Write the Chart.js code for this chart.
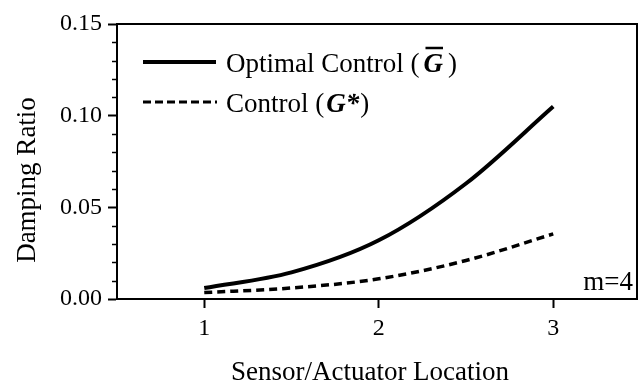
<!DOCTYPE html>
<html>
<head>
<meta charset="utf-8">
<script src="https://cdn.jsdelivr.net/npm/chart.js@4.4.1/dist/chart.umd.min.js"></script>
<style>
    html, body { margin: 0; padding: 0; background: #fff; overflow: hidden; }
    #wrap { width: 639px; height: 390px; position: relative; }
</style>
</head>
<body>
<div id="wrap"><canvas id="dampingChart"></canvas></div>
<script>
    const locations = [1, 1.5, 2, 2.5, 3];
    const optimalRatio = [0.006, 0.0145, 0.032, 0.063, 0.105];
    const controlRatio = [0.0035, 0.006, 0.011, 0.021, 0.0355];

    const xTicks = [1, 2, 3];
    const yTicks = [0, 0.05, 0.10, 0.15];
    const yMinorTicks = [0.01, 0.02, 0.03, 0.04, 0.06, 0.07, 0.08, 0.09, 0.11, 0.12, 0.13, 0.14];

    const SERIF = '"Liberation Serif", "Times New Roman", serif';

    function toPoints(values) {
        return locations.map((x, i) => ({ x, y: values[i] }));
    }

    // Frame, minor ticks, legend, axis titles and the m=4 note
    const decorations = {
        id: 'decorations',
        afterDraw(chart) {
            const ctx = chart.ctx;
            const area = chart.chartArea;
            const yScale = chart.scales.y;

            ctx.save();
            ctx.strokeStyle = '#000';
            ctx.fillStyle = '#000';

            // top and right edge of the box
            ctx.lineWidth = 2;
            ctx.beginPath();
            ctx.moveTo(area.left, area.top);
            ctx.lineTo(area.right, area.top);
            ctx.lineTo(area.right, area.bottom);
            ctx.stroke();

            // minor ticks on the left axis
            ctx.lineWidth = 1.5;
            yMinorTicks.forEach((v) => {
                const y = Math.round(yScale.getPixelForValue(v)) + 0.5;
                ctx.beginPath();
                ctx.moveTo(area.left - 5, y);
                ctx.lineTo(area.left, y);
                ctx.stroke();
            });

            // legend samples
            ctx.lineWidth = 4;
            ctx.beginPath();
            ctx.moveTo(143, 62);
            ctx.lineTo(216, 62);
            ctx.stroke();

            ctx.lineWidth = 3;
            ctx.setLineDash([8, 4]);
            ctx.beginPath();
            ctx.moveTo(143, 102);
            ctx.lineTo(217, 102);
            ctx.stroke();
            ctx.setLineDash([]);

            const regular = '27px ' + SERIF;
            const boldItalic = 'bold italic 27px ' + SERIF;
            ctx.textBaseline = 'alphabetic';
            ctx.textAlign = 'left';

            // line 1: Optimal Control (G-bar)
            let x = 226;
            ctx.font = regular;
            ctx.fillText('Optimal Control (', x, 72);
            x += ctx.measureText('Optimal Control (').width + 4;
            ctx.font = boldItalic;
            const gWidth = ctx.measureText('G').width;
            ctx.fillText('G', x, 72);
            ctx.lineWidth = 2.5;
            ctx.beginPath();
            ctx.moveTo(x + 2, 48);
            ctx.lineTo(x + gWidth, 48);
            ctx.stroke();
            x += gWidth + 5;
            ctx.font = regular;
            ctx.fillText(')', x, 72);

            // line 2: Control (G*)
            x = 226;
            ctx.fillText('Control (', x, 112);
            x += ctx.measureText('Control (').width + 2;
            ctx.font = boldItalic;
            ctx.fillText('G*', x, 112);
            x += ctx.measureText('G*').width + 1;
            ctx.font = regular;
            ctx.fillText(')', x, 112);

            // note in the lower right corner
            ctx.textAlign = 'right';
            ctx.fillText('m=4', 633, 290);

            // axis titles
            ctx.textAlign = 'center';
            ctx.fillText('Sensor/Actuator Location', 370, 380);

            ctx.translate(35, 180);
            ctx.rotate(-Math.PI / 2);
            ctx.fillText('Damping Ratio', 0, 0);

            ctx.restore();
        },
    };

    new Chart(document.getElementById('dampingChart'), {
        type: 'line',
        data: {
            datasets: [
                {
                    label: 'Optimal Control',
                    data: toPoints(optimalRatio),
                    borderColor: '#000',
                    borderWidth: 4,
                    pointRadius: 0,
                    cubicInterpolationMode: 'monotone',
                    fill: false,
                },
                {
                    label: 'Control',
                    data: toPoints(controlRatio),
                    borderColor: '#000',
                    borderWidth: 3.5,
                    borderDash: [8, 5],
                    pointRadius: 0,
                    cubicInterpolationMode: 'monotone',
                    fill: false,
                },
            ],
        },
        options: {
            responsive: true,
            maintainAspectRatio: false,
            animation: false,
            layout: {
                padding: { top: 24, right: 2, left: 0, bottom: 0 },
            },
            plugins: {
                legend: { display: false },
                tooltip: { enabled: false },
            },
            scales: {
                x: {
                    type: 'linear',
                    min: 0.5,
                    max: 3.48,
                    afterBuildTicks(scale) {
                        scale.ticks = xTicks.map((v) => ({ value: v }));
                    },
                    afterFit(scale) {
                        scale.height = 91;
                    },
                    border: { display: true, color: '#000', width: 2 },
                    grid: {
                        drawOnChartArea: false,
                        drawTicks: true,
                        tickLength: 9,
                        tickWidth: 2,
                        color: '#000',
                    },
                    ticks: {
                        color: '#000',
                        padding: 6,
                        font: { family: SERIF, size: 24 },
                        callback(value) {
                            return String(value);
                        },
                    },
                },
                y: {
                    min: 0,
                    max: 0.15,
                    afterBuildTicks(scale) {
                        scale.ticks = yTicks.map((v) => ({ value: v }));
                    },
                    afterFit(scale) {
                        scale.width = 117;
                    },
                    border: { display: true, color: '#000', width: 2 },
                    grid: {
                        drawOnChartArea: false,
                        drawTicks: true,
                        tickLength: 9,
                        tickWidth: 2,
                        color: '#000',
                    },
                    ticks: {
                        color: '#000',
                        padding: 6,
                        font: { family: SERIF, size: 24 },
                        callback(value) {
                            return Number(value).toFixed(2);
                        },
                    },
                },
            },
        },
        plugins: [decorations],
    });
</script>
</body>
</html>
